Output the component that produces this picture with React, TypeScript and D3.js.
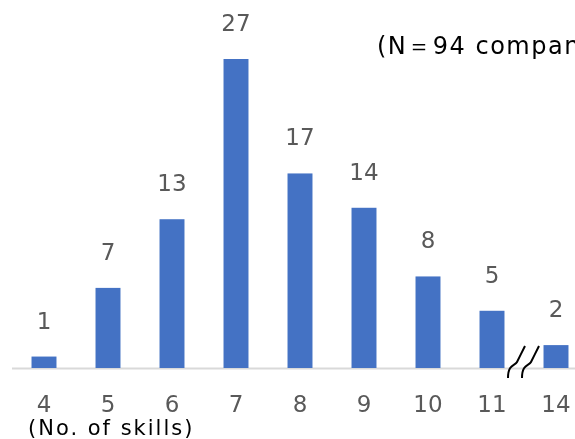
import * as d3 from "d3";
import { useEffect, useRef } from "react";

const skills = ["4", "5", "6", "7", "8", "9", "10", "11", "14"];
const companies = [1, 7, 13, 27, 17, 14, 8, 5, 2];

const W = 575;
const H = 439;

const App = () => {
  const ref = useRef<SVGSVGElement>(null);

  useEffect(() => {
    const svg = d3.select(ref.current);
    svg.selectAll("*").remove();

    const font = "'DejaVu Sans', Verdana, sans-serif";
    const base = 368;

    const x = d3.scaleBand().domain(skills).range([12, 588]).paddingInner(0.61).paddingOuter(0.305);
    const y = d3.scaleLinear().domain([0, 27]).range([base, 59]);

    // axis line
    svg.append("line")
      .attr("x1", 12).attr("x2", W)
      .attr("y1", base + 0.5).attr("y2", base + 0.5)
      .attr("stroke", "#d9d9d9").attr("stroke-width", 2);

    svg.append("g").selectAll("rect")
      .data(companies)
      .enter().append("rect")
      .attr("x", (d, i) => x(skills[i])!)
      .attr("width", x.bandwidth())
      .attr("y", d => y(d))
      .attr("height", d => base - y(d))
      .attr("fill", "#4472c4");

    svg.append("g")
      .attr("font-family", font).attr("font-size", 23)
      .attr("fill", "#595959").attr("text-anchor", "middle")
      .selectAll("text")
      .data(companies)
      .enter().append("text")
      .attr("x", (d, i) => x(skills[i])! + x.bandwidth() / 2)
      .attr("y", d => y(d) - 28)
      .text(d => d);

    svg.append("g")
      .attr("font-family", font).attr("font-size", 23)
      .attr("fill", "#595959").attr("text-anchor", "middle")
      .selectAll("text")
      .data(skills)
      .enter().append("text")
      .attr("x", d => x(d)! + x.bandwidth() / 2)
      .attr("y", 412)
      .text(d => d);

    // axis break mark
    const mid = (x("11")! + x.bandwidth() + x("14")!) / 2;
    [-7, 7].forEach(dx => {
      const cx = mid + dx;
      svg.append("path")
        .attr("d", `M${cx - 9},${base + 10} C${cx - 9},${base - 4} ${cx - 2},${base - 2} ${cx},${base - 6} S${cx + 8},${base - 22} ${cx + 8},${base - 22}`)
        .attr("fill", "none").attr("stroke", "#000").attr("stroke-width", 2);
    });

    svg.append("text")
      .attr("x", 28).attr("y", 435)
      .attr("font-family", font).attr("font-size", 21)
      .attr("letter-spacing", 2)
      .attr("fill", "#000")
      .text("(No. of skills)");

    svg.append("text")
      .attr("x", 377).attr("y", 54)
      .attr("font-family", font).attr("font-size", 24)
      .attr("letter-spacing", 1.5)
      .attr("fill", "#000")
      .text("(N＝94 companies)");
  }, []);

  return (
    <div style={{ position: "fixed", left: 0, top: 0 }}>
      <svg ref={ref} width={W} height={H} style={{ display: "block", overflow: "hidden" }} />
    </div>
  );
};

export default App;
